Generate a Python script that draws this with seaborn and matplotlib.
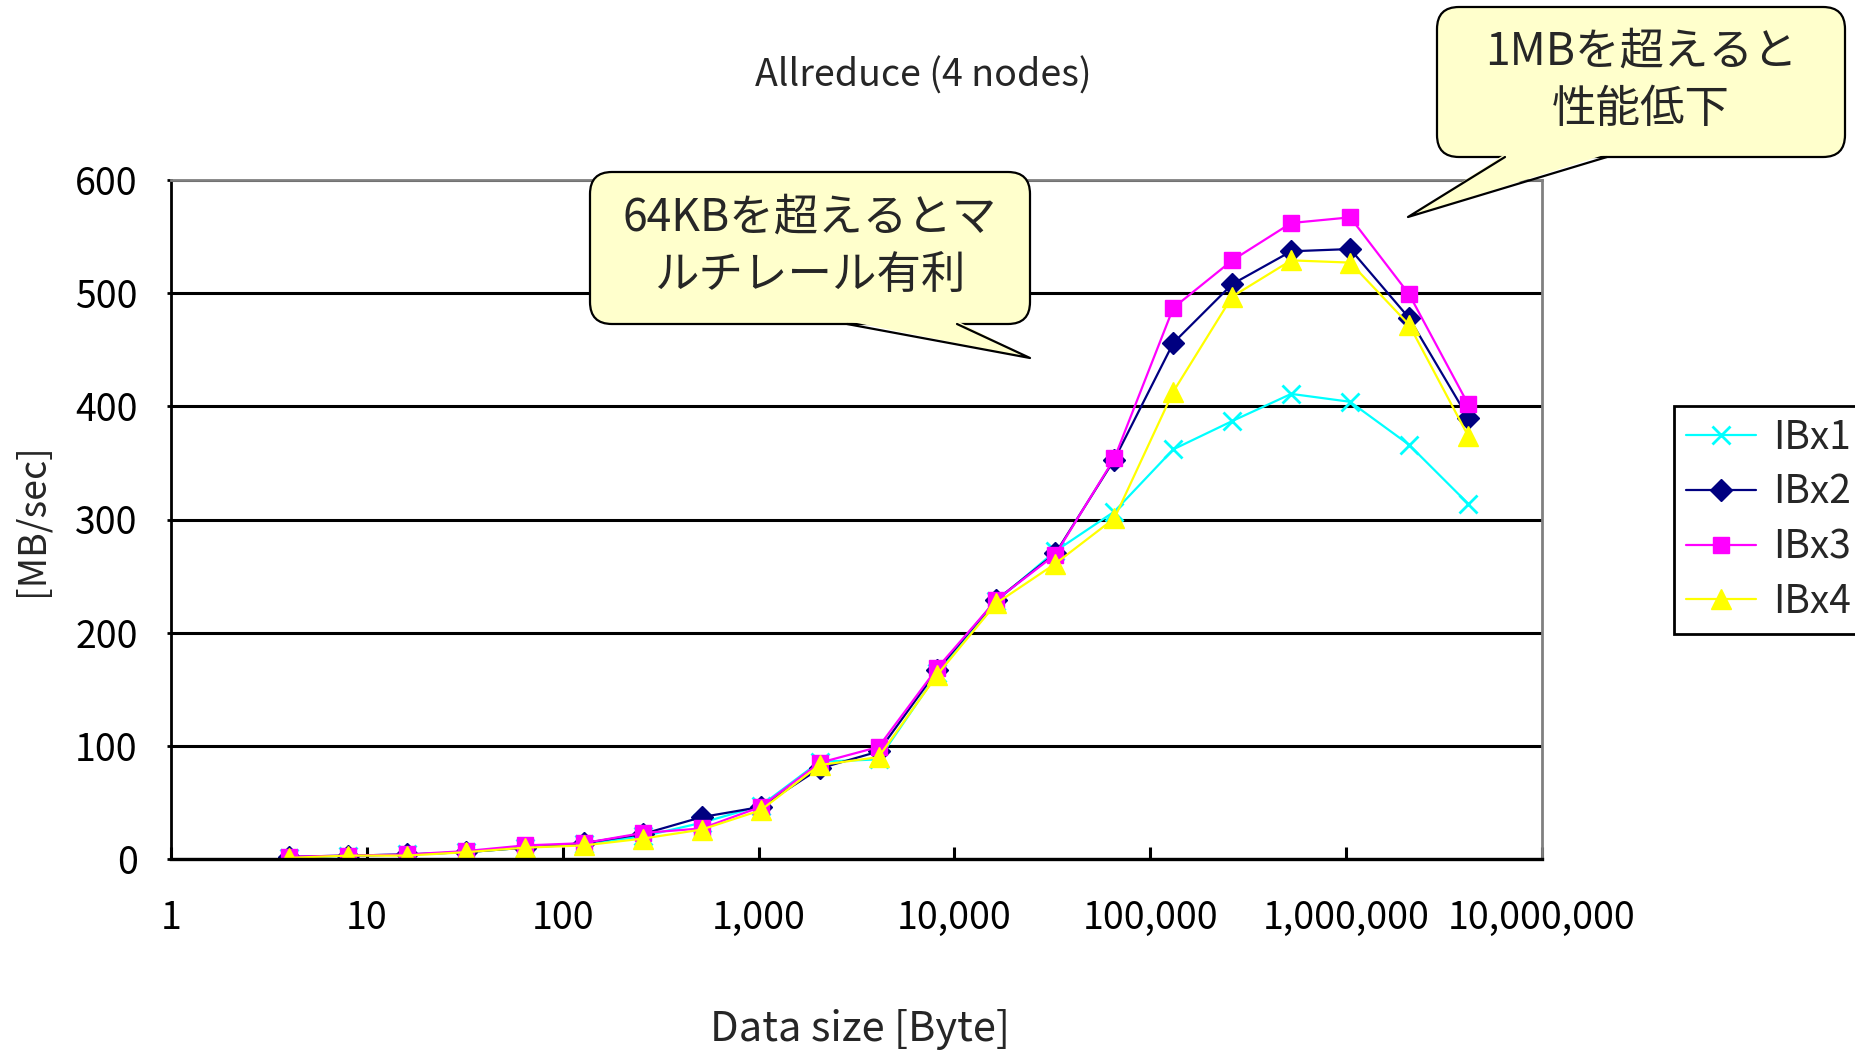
import numpy as np
import pandas as pd
import matplotlib
matplotlib.use("Agg")
import matplotlib.pyplot as plt
import matplotlib.ticker as mticker
from matplotlib.patches import FancyBboxPatch, Polygon
from matplotlib.lines import Line2D
import seaborn as sns

# ---- data -------------------------------------------------------------
sizes = [4, 8, 16, 32, 64, 128, 256, 512, 1024, 2048, 4096, 8192, 16384,
         32768, 65536, 131072, 262144, 524288, 1048576, 2097152, 4194304]

ib_x1 = [1, 3, 4, 6, 10, 13, 20, 32, 47, 86, 88, 164, 228,
         272, 307, 362, 387, 411, 404, 366, 314]
ib_x2 = [2, 3, 4, 6, 10, 14, 22, 37, 46, 80, 95, 167, 229,
         270, 353, 456, 508, 537, 539, 478, 390]
ib_x3 = [2, 3, 4, 7, 12, 14, 23, 27, 46, 85, 99, 169, 229,
         269, 354, 487, 529, 562, 567, 499, 402]
ib_x4 = [1, 3, 3, 6, 10, 12, 18, 26, 43, 83, 90, 163, 226,
         261, 301, 413, 497, 529, 527, 472, 374]

series_names = ["IBx1", "IBx2", "IBx3", "IBx4"]
x_ticks = [1, 10, 100, 1000, 10000, 100000, 1000000, 10000000]
y_ticks = [0, 100, 200, 300, 400, 500, 600]

title_text = "Allreduce (4 nodes)"
xlabel_text = "Data size [Byte]"
ylabel_text = "[MB/sec]"
note_multirail = "64KBを超えるとマ\nルチレール有利"
note_degrade = "1MBを超えると\n性能低下"

# ---- styling ----------------------------------------------------------
sns.set_style("white")
plt.rcParams["font.family"] = ["Noto Sans CJK JP", "DejaVu Sans"]

colors = ["#00FFFF", "#000080", "#FF00FF", "#FFFF00"]
markers = ["x", "D", "s", "^"]
msizes = [13, 11, 11, 14]

W, H = 1856, 1050
fig = plt.figure(figsize=(W / 100, H / 100), dpi=100)
ax = fig.add_axes([171 / W, 1 - 859 / H, (1542 - 171) / W, (859 - 180) / H])

df = pd.DataFrame({
    "size": sizes * 4,
    "mbps": ib_x1 + ib_x2 + ib_x3 + ib_x4,
    "series": sum([[n] * len(sizes) for n in series_names], []),
})

for name, c, m, ms in zip(series_names, colors, markers, msizes):
    sub = df[df["series"] == name]
    sns.lineplot(data=sub, x="size", y="mbps", ax=ax, color=c, marker=m,
                 markersize=ms, markeredgecolor=c, markerfacecolor=c,
                 markeredgewidth=2 if m == "x" else 1, linewidth=1.6,
                 label=name, legend=False)

ax.set_xscale("log")
ax.set_xlim(1, 10000000)
ax.set_ylim(0, 600)
ax.set_xticks(x_ticks)
ax.xaxis.set_major_formatter(mticker.FuncFormatter(lambda v, p: f"{int(round(v)):,}"))
ax.xaxis.set_minor_locator(mticker.NullLocator())
ax.set_yticks(y_ticks)

ax.yaxis.grid(True, color="black", linewidth=2.2)
ax.xaxis.grid(False)
ax.set_axisbelow(True)

for side in ("top", "right"):
    ax.spines[side].set_color("#808080")
    ax.spines[side].set_linewidth(2)
ax.spines["left"].set_color("black")
ax.spines["left"].set_linewidth(2)
ax.spines["bottom"].set_color("black")
ax.spines["bottom"].set_linewidth(2.4)

ax.tick_params(axis="y", direction="out", length=3, width=2, pad=21,
               labelsize=27, left=True, colors="black")
ax.tick_params(axis="x", direction="in", length=9, width=2.2, pad=29,
               labelsize=27, bottom=True, colors="black")

ax.set_xlabel(xlabel_text, fontsize=30)
ax.xaxis.set_label_coords((860 - 171) / 1371, -(1029 - 859) / 679)
ax.xaxis.label.set_va("center")
ax.set_ylabel(ylabel_text, fontsize=27)
ax.yaxis.set_label_coords(-(171 - 32) / 1371, 0.5)
ax.yaxis.label.set_va("center")

fig.text(923 / W, 1 - 76 / H, title_text, ha="center", va="center",
         fontsize=27)

# legend box partly running off the right edge
handles = [Line2D([], [], color=c, marker=m, markersize=ms, markeredgecolor=c,
                  markerfacecolor=c, markeredgewidth=2 if m == "x" else 1,
                  linewidth=1.6)
           for c, m, ms in zip(colors, markers, msizes)]
leg = fig.legend(handles, series_names, loc="upper left",
                 bbox_to_anchor=(1674 / W, 1 - 406 / H),
                 bbox_transform=fig.transFigure, borderaxespad=0,
                 fontsize=28, handlelength=1.8, handletextpad=0.45,
                 borderpad=0.3, labelspacing=0.38, fancybox=False,
                 frameon=True, framealpha=1)
leg.get_frame().set_edgecolor("black")
leg.get_frame().set_linewidth(2)


# ---- callout balloons (coordinates in pixels from the top-left) -------
def callout(box, base, tip, text):
    x0, y0, x1, y1 = box
    tr = fig.dpi_scale_trans
    to_in = lambda x, y: (x / 100, (H - y) / 100)
    bx, by = to_in(x0, y1)
    body = FancyBboxPatch((bx, by), (x1 - x0) / 100, (y1 - y0) / 100,
                          boxstyle="round,pad=0,rounding_size=0.22",
                          facecolor="#FFFFCC", edgecolor="black",
                          linewidth=1.6, transform=tr, zorder=5)
    fig.add_artist(body)
    pa = to_in(base[0], y1 - 3)
    pb = to_in(base[1], y1 - 3)
    pt = to_in(*tip)
    fig.add_artist(Polygon([pa, pt, pb], closed=True, facecolor="#FFFFCC",
                           edgecolor="none", transform=tr, zorder=6))
    ea = to_in(base[0], y1)
    eb = to_in(base[1], y1)
    fig.add_artist(Line2D([ea[0], pt[0], eb[0]], [ea[1], pt[1], eb[1]],
                          color="black", linewidth=1.6, transform=tr, zorder=7))
    cx, cy = to_in((x0 + x1) / 2, (y0 + y1) / 2 - 2)
    fig.text(cx, cy, text, transform=tr, ha="center", va="center",
             fontsize=32, linespacing=1.32, zorder=8)


callout((590, 172, 1030, 324), (847, 957), (1030, 358), note_multirail)
callout((1437, 7, 1845, 157), (1505, 1607), (1408, 217), note_degrade)

fig.savefig("out.png", dpi=100, facecolor="white")
